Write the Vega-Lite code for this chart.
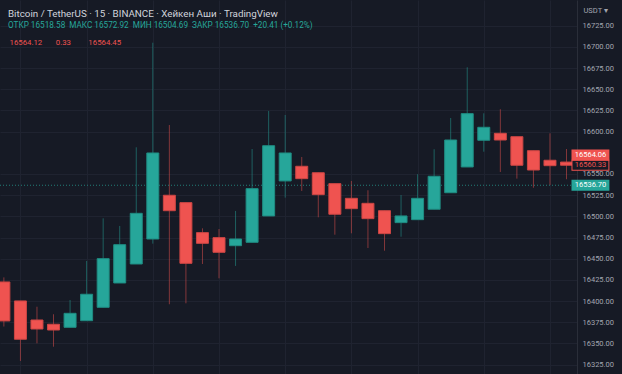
{
  "$schema": "https://vega.github.io/schema/vega-lite/v6.json",
  "width": 577,
  "height": 374,
  "autosize": {"type": "none"},
  "padding": {"left": 0, "top": 0, "right": 45, "bottom": 0},
  "background": "#161a25",
  "config": {
    "view": {"stroke": null},
    "font": "Roboto"
  },
  "resolve": {"axis": {"x": "independent", "y": "independent"}},
  "title": {
    "text": "Bitcoin / TetherUS · 15 · BINANCE · Хейкен Аши · TradingView",
    "subtitle": "ОТКР 16518.58\u00a0 МАКС 16572.92\u00a0 МИН 16504.69\u00a0 ЗАКР 16536.70\u00a0 +20.41 (+0.12%)",
    "anchor": "start",
    "frame": "group",
    "orient": "top",
    "offset": -29,
    "dx": 8,
    "fontSize": 9.8,
    "font": "Roboto",
    "fontWeight": "normal",
    "color": "#d1d4dc",
    "subtitleFontSize": 8.2,
    "subtitleColor": "#26a69a",
    "subtitleFont": "Roboto",
    "subtitlePadding": 3
  },
  "datasets": {
    "candles": [
      {"i": 0, "o": 16422.6, "h": 16428.0, "l": 16370.0, "c": 16376.6},
      {"i": 1, "o": 16400.2, "h": 16400.2, "l": 16329.4, "c": 16355.0},
      {"i": 2, "o": 16377.7, "h": 16393.4, "l": 16350.2, "c": 16367.1},
      {"i": 3, "o": 16372.7, "h": 16384.5, "l": 16346.2, "c": 16365.9},
      {"i": 4, "o": 16369.1, "h": 16401.3, "l": 16369.1, "c": 16385.6},
      {"i": 5, "o": 16376.9, "h": 16447.4, "l": 16376.9, "c": 16408.1},
      {"i": 6, "o": 16392.7, "h": 16497.7, "l": 16392.7, "c": 16450.1},
      {"i": 7, "o": 16421.4, "h": 16488.7, "l": 16421.4, "c": 16466.6},
      {"i": 8, "o": 16443.8, "h": 16581.5, "l": 16443.8, "c": 16503.6},
      {"i": 9, "o": 16473.3, "h": 16704.9, "l": 16467.8, "c": 16574.8},
      {"i": 10, "o": 16524.9, "h": 16607.8, "l": 16396.3, "c": 16506.7},
      {"i": 11, "o": 16516.2, "h": 16516.2, "l": 16397.4, "c": 16444.6},
      {"i": 12, "o": 16480.8, "h": 16485.9, "l": 16443.8, "c": 16468.2},
      {"i": 13, "o": 16474.9, "h": 16485.1, "l": 16426.9, "c": 16457.6},
      {"i": 14, "o": 16465.4, "h": 16506.4, "l": 16441.5, "c": 16473.3},
      {"i": 15, "o": 16469.4, "h": 16579.5, "l": 16469.4, "c": 16532.7},
      {"i": 16, "o": 16500.5, "h": 16624.4, "l": 16500.5, "c": 16583.4},
      {"i": 17, "o": 16541.8, "h": 16619.6, "l": 16522.1, "c": 16574.8},
      {"i": 18, "o": 16559.1, "h": 16570.1, "l": 16530.0, "c": 16544.5},
      {"i": 19, "o": 16551.5, "h": 16551.5, "l": 16498.9, "c": 16525.6},
      {"i": 20, "o": 16538.6, "h": 16538.6, "l": 16478.4, "c": 16502.5},
      {"i": 21, "o": 16521.3, "h": 16541.8, "l": 16480.0, "c": 16509.1},
      {"i": 22, "o": 16515.4, "h": 16530.8, "l": 16462.7, "c": 16497.3},
      {"i": 23, "o": 16506.7, "h": 16506.7, "l": 16459.5, "c": 16479.6},
      {"i": 24, "o": 16492.6, "h": 16525.2, "l": 16476.0, "c": 16500.5},
      {"i": 25, "o": 16496.1, "h": 16549.7, "l": 16496.1, "c": 16521.3},
      {"i": 26, "o": 16508.4, "h": 16579.2, "l": 16508.4, "c": 16547.3},
      {"i": 27, "o": 16527.9, "h": 16616.1, "l": 16527.9, "c": 16590.1},
      {"i": 28, "o": 16558.3, "h": 16675.9, "l": 16558.3, "c": 16621.2},
      {"i": 29, "o": 16589.8, "h": 16621.6, "l": 16576.3, "c": 16605.1},
      {"i": 30, "o": 16598.0, "h": 16626.4, "l": 16552.4, "c": 16590.1},
      {"i": 31, "o": 16594.0, "h": 16594.0, "l": 16544.5, "c": 16560.3},
      {"i": 32, "o": 16577.5, "h": 16577.5, "l": 16533.8, "c": 16554.7},
      {"i": 33, "o": 16566.2, "h": 16598.0, "l": 16537.0, "c": 16559.8},
      {"i": 34, "o": 16564.06, "h": 16579.5, "l": 16543.8, "c": 16560.33}
    ],
    "prices": [
      {"price": 16564.06, "kind": "red"},
      {"price": 16560.33, "kind": "hollow"},
      {"price": 16536.70, "kind": "green"}
    ]
  },
  "layer": [
    {
      "data": {"name": "candles"},
      "mark": {"type": "rule", "strokeWidth": 1},
      "encoding": {
        "x": {
          "field": "i",
          "type": "quantitative",
          "scale": {"domain": [0.068, 34.331], "nice": false, "zero": false},
          "axis": {
            "orient": "top",
            "values": [1, 5, 9, 13, 17, 21, 25, 29, 33],
            "labels": false,
            "ticks": false,
            "domain": false,
            "grid": true,
            "gridColor": "#1f2330",
            "title": "\u00a0\u00a016564.12\u00a0\u00a0\u00a0\u00a0\u00a0\u00a0\u00a00.33\u00a0\u00a0\u00a0\u00a0\u00a0\u00a0\u00a0\u00a0\u00a016564.45",
            "titleX": 9,
            "titleY": 44,
            "titleAlign": "left",
            "titleAnchor": "start",
            "titleBaseline": "alphabetic",
            "titleFontSize": 7.8,
            "titleFont": "Roboto",
            "titleFontWeight": "normal",
            "titleColor": "#ef5350"
          }
        },
        "y": {
          "field": "h",
          "type": "quantitative",
          "scale": {"domain": [16314, 16755.3], "nice": false, "zero": false},
          "axis": {
            "orient": "right",
            "values": [16325, 16350, 16375, 16400, 16425, 16450, 16475, 16500, 16525, 16550, 16600, 16625, 16650, 16675, 16700, 16725],
            "format": ".2f",
            "labelOverlap": false,
            "labelFlush": false,
            "labelFontSize": 7.5,
            "labelFont": "Roboto",
            "labelColor": "#a3a6b0",
            "labelPadding": 5,
            "ticks": false,
            "domain": true,
            "domainColor": "#2a2e39",
            "grid": true,
            "gridColor": "#1f2330",
            "title": "USDT ▾",
            "titleAngle": 0,
            "titleX": 6,
            "titleY": 6,
            "titleAlign": "left",
            "titleBaseline": "top",
            "titleFontSize": 7.5,
            "titleFont": "Roboto",
            "titleFontWeight": "normal",
            "titleColor": "#a3a6b0"
          }
        },
        "y2": {"field": "l"},
        "color": {"condition": {"test": "datum.c >= datum.o", "value": "#26a69a"}, "value": "#ef5350"},
        "opacity": {"value": 0.5}
      }
    },
    {
      "data": {"name": "prices"},
      "transform": [{"filter": "datum.kind == 'green'"}],
      "mark": {"type": "rule", "strokeWidth": 1, "strokeDash": [1, 2]},
      "encoding": {
        "y": {"field": "price", "type": "quantitative", "axis": null},
        "color": {"value": "#26a69a"},
        "opacity": {"value": 0.7}
      }
    },
    {
      "data": {"name": "candles"},
      "mark": {"type": "bar", "size": 12, "strokeWidth": 1},
      "encoding": {
        "x": {"field": "i", "type": "quantitative", "axis": null},
        "y": {"field": "o", "type": "quantitative", "axis": null},
        "y2": {"field": "c"},
        "color": {"condition": {"test": "datum.c >= datum.o", "value": "#26a69a"}, "value": "#ef5350"},
        "stroke": {"condition": {"test": "datum.c >= datum.o", "value": "#1f8c82"}, "value": "#cc4644"},
        "opacity": {"value": 1}
      }
    },
    {
      "data": {"name": "prices"},
      "transform": [{"filter": "datum.kind == 'green'"}],
      "mark": {"type": "rule", "strokeWidth": 11, "strokeCap": "butt"},
      "encoding": {
        "x": {"datum": 34.3, "type": "quantitative", "axis": null},
        "x2": {"datum": 36.59},
        "y": {"field": "price", "type": "quantitative", "axis": null},
        "color": {"value": "#26a69a"}
      }
    },
    {
      "data": {"name": "prices"},
      "transform": [{"filter": "datum.kind == 'hollow'"}],
      "mark": {"type": "rule", "strokeWidth": 11, "strokeCap": "butt"},
      "encoding": {
        "x": {"datum": 34.3, "type": "quantitative", "axis": null},
        "x2": {"datum": 36.59},
        "y": {"field": "price", "type": "quantitative", "axis": null},
        "color": {"value": "#ef5350"}
      }
    },
    {
      "data": {"name": "prices"},
      "transform": [{"filter": "datum.kind == 'hollow'"}],
      "mark": {"type": "rule", "strokeWidth": 9, "strokeCap": "butt"},
      "encoding": {
        "x": {"datum": 34.36, "type": "quantitative", "axis": null},
        "x2": {"datum": 36.53},
        "y": {"field": "price", "type": "quantitative", "axis": null},
        "color": {"value": "#161a25"}
      }
    },
    {
      "data": {"name": "prices"},
      "transform": [{"filter": "datum.kind == 'red'"}],
      "mark": {"type": "rule", "strokeWidth": 11, "strokeCap": "butt", "yOffset": -7},
      "encoding": {
        "x": {"datum": 34.3, "type": "quantitative", "axis": null},
        "x2": {"datum": 36.59},
        "y": {"field": "price", "type": "quantitative", "axis": null},
        "color": {"value": "#ef5350"}
      }
    },
    {
      "data": {"name": "prices"},
      "transform": [{"filter": "datum.kind == 'red'"}],
      "mark": {"type": "text", "yOffset": -7, "align": "center", "baseline": "middle", "fontSize": 7.5, "font": "Roboto"},
      "encoding": {
        "x": {"datum": 35.45, "type": "quantitative", "axis": null},
        "y": {"field": "price", "type": "quantitative", "axis": null},
        "text": {"field": "price", "type": "quantitative", "format": ".2f"},
        "color": {"value": "#ffffff"}
      }
    },
    {
      "data": {"name": "prices"},
      "transform": [{"filter": "datum.kind == 'hollow'"}],
      "mark": {"type": "text", "align": "center", "baseline": "middle", "fontSize": 7.5, "font": "Roboto"},
      "encoding": {
        "x": {"datum": 35.45, "type": "quantitative", "axis": null},
        "y": {"field": "price", "type": "quantitative", "axis": null},
        "text": {"field": "price", "type": "quantitative", "format": ".2f"},
        "color": {"value": "#ef5350"}
      }
    },
    {
      "data": {"name": "prices"},
      "transform": [{"filter": "datum.kind == 'green'"}],
      "mark": {"type": "text", "align": "center", "baseline": "middle", "fontSize": 7.5, "font": "Roboto"},
      "encoding": {
        "x": {"datum": 35.45, "type": "quantitative", "axis": null},
        "y": {"field": "price", "type": "quantitative", "axis": null},
        "text": {"field": "price", "type": "quantitative", "format": ".2f"},
        "color": {"value": "#ffffff"}
      }
    }
  ]
}
